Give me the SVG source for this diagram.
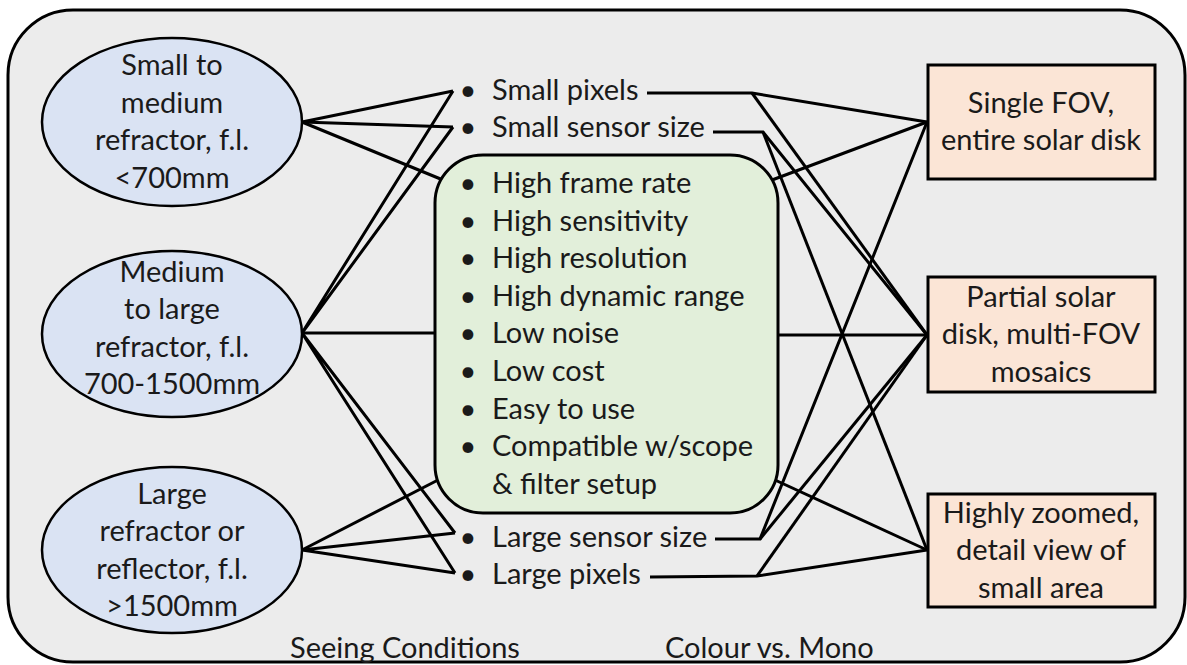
<svg xmlns="http://www.w3.org/2000/svg" width="1187" height="665" viewBox="0 0 1187 665">
<style>
.t{font-family:Lato,"Liberation Sans",sans-serif;font-size:29px;fill:#1a1a1a}
.c{text-anchor:middle}
.b{text-anchor:middle}
.ln{stroke:#000;stroke-width:3;fill:none;stroke-linejoin:miter}
.ell{fill:#dae3f3;stroke:#000;stroke-width:2.5}
.box{fill:#fbe5d6;stroke:#000;stroke-width:3}
</style>
<rect width="1187" height="665" fill="#fff"/>
<rect id="frame" x="8" y="10" width="1177" height="652" rx="65" ry="65" fill="#ececec" stroke="#000" stroke-width="3"/>
<g id="connectors" class="ln">
<polyline points="453,91 302,122 453,127"/>
<line x1="302" y1="122" x2="443" y2="180"/>
<polyline points="453,91 302,333 453,127"/>
<line x1="302" y1="333" x2="435" y2="333"/>
<polyline points="455,533 302,333 455,573"/>
<line x1="302" y1="550" x2="438" y2="480"/>
<polyline points="455,533 302,550 455,573"/>
<polyline points="647,93 752,93 927,122"/>
<line x1="752" y1="93" x2="927" y2="335"/>
<polyline points="713,132 763,132 927,335"/>
<line x1="763" y1="132" x2="927" y2="550"/>
<line x1="772" y1="180" x2="927" y2="122"/>
<line x1="778" y1="335" x2="927" y2="335"/>
<line x1="775" y1="480" x2="927" y2="550"/>
<polyline points="715,539 760,539 927,122"/>
<line x1="760" y1="539" x2="927" y2="335"/>
<polyline points="650,577 757,576 927,550"/>
<line x1="757" y1="576" x2="927" y2="335"/>
</g>
<g id="scope1">
<ellipse class="ell" cx="172" cy="122" rx="130" ry="84"/>
<text class="t c" x="172" y="75">Small to</text>
<text class="t c" x="172" y="113">medium</text>
<text class="t c" x="172" y="150">refractor, f.l.</text>
<text class="t c" x="172" y="188">&lt;700mm</text>
</g>
<g id="scope2">
<ellipse class="ell" cx="172" cy="334" rx="130" ry="83"/>
<text class="t c" x="172" y="282">Medium</text>
<text class="t c" x="172" y="319">to large</text>
<text class="t c" x="172" y="357">refractor, f.l.</text>
<text class="t c" x="172" y="394">700-1500mm</text>
</g>
<g id="scope3">
<ellipse class="ell" cx="172" cy="550" rx="130" ry="83"/>
<text class="t c" x="172" y="504">Large</text>
<text class="t c" x="172" y="541">refractor or</text>
<text class="t c" x="172" y="579">reflector, f.l.</text>
<text class="t c" x="172" y="616">&gt;1500mm</text>
</g>
<g id="small-pixels">
<text class="t b" x="468" y="100">•</text>
<text class="t" x="492" y="100">Small pixels</text>
</g>
<g id="small-sensor">
<text class="t b" x="468" y="137">•</text>
<text class="t" x="492" y="137">Small sensor size</text>
</g>
<g id="camera-features">
<rect x="435" y="155" width="343" height="358" rx="48" ry="48" fill="#e2efda" stroke="#000" stroke-width="3"/>
<text class="t b" x="468" y="193">•</text><text class="t" x="492" y="193">High frame rate</text>
<text class="t b" x="468" y="231">•</text><text class="t" x="492" y="231">High sensitivity</text>
<text class="t b" x="468" y="268">•</text><text class="t" x="492" y="268">High resolution</text>
<text class="t b" x="468" y="306">•</text><text class="t" x="492" y="306">High dynamic range</text>
<text class="t b" x="468" y="343">•</text><text class="t" x="492" y="343">Low noise</text>
<text class="t b" x="468" y="381">•</text><text class="t" x="492" y="381">Low cost</text>
<text class="t b" x="468" y="419">•</text><text class="t" x="492" y="419">Easy to use</text>
<text class="t b" x="468" y="456">•</text><text class="t" x="492" y="456">Compatible w/scope</text>
<text class="t" x="492" y="494">&amp; filter setup</text>
</g>
<g id="large-sensor">
<text class="t b" x="468" y="547">•</text>
<text class="t" x="492" y="547">Large sensor size</text>
</g>
<g id="large-pixels">
<text class="t b" x="468" y="584">•</text>
<text class="t" x="492" y="584">Large pixels</text>
</g>
<g id="single-fov">
<rect class="box" x="928" y="65" width="227" height="114"/>
<text class="t c" x="1041" y="113">Single FOV,</text>
<text class="t c" x="1041" y="150">entire solar disk</text>
</g>
<g id="partial-disk">
<rect class="box" x="928" y="277" width="227" height="115"/>
<text class="t c" x="1041" y="307">Partial solar</text>
<text class="t c" x="1041" y="344">disk, multi-FOV</text>
<text class="t c" x="1041" y="382">mosaics</text>
</g>
<g id="zoomed">
<rect class="box" x="928" y="494" width="227" height="113"/>
<text class="t c" x="1041" y="523">Highly zoomed,</text>
<text class="t c" x="1041" y="560">detail view of</text>
<text class="t c" x="1041" y="598">small area</text>
</g>
<g id="labels">
<text class="t" x="290" y="658">Seeing Conditions</text>
<text class="t" x="665" y="658">Colour vs. Mono</text>
</g>
</svg>
